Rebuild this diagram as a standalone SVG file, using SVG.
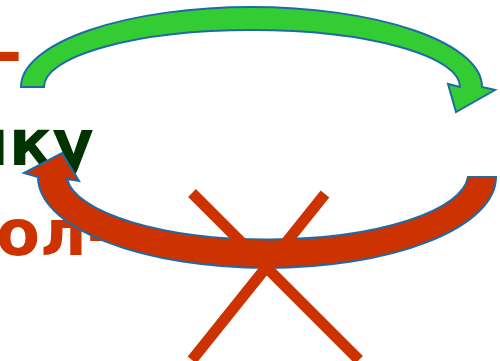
<svg xmlns="http://www.w3.org/2000/svg" width="500" height="361" viewBox="0 0 500 361">
<style>
.t{font-family:"DejaVu Sans","Liberation Sans",sans-serif;font-weight:bold;font-size:64px}
.red{fill:#CC3300}
.dg{fill:#003300}
.arr{stroke:#1F6AA5;stroke-width:2;stroke-linejoin:miter}
.x{stroke:#CC3300;stroke-width:11;fill:none}
</style>
<rect width="500" height="361" fill="#ffffff"/>
<g id="line1"><text class="t red" x="22" y="75" text-anchor="end">-</text></g>
<g id="line2"><text class="t dg" x="94" y="165" text-anchor="end">ику</text></g>
<g id="line3"><text class="t red" x="-4" y="255">ол-</text></g>
<g id="connectors">
<path id="green-arrow" class="arr" fill="#33CC33" d="M21,87 A230.5,80 0 0 1 482,87 L495,90 L456,112 L448,84 L460,87 A208,57 0 0 0 44,87 Z"/>
<path id="red-arrow" class="arr" fill="#CC3300" d="M496,177 A229,91 0 0 1 38,177 L24,173 L62,153 L79,181 L67,179 A201,66 0 0 0 468,177 Z"/>
</g>
<g id="cross">
<line class="x" x1="192" y1="193" x2="359" y2="360"/>
<line class="x" x1="325" y1="194" x2="192" y2="360"/>
</g>
</svg>
